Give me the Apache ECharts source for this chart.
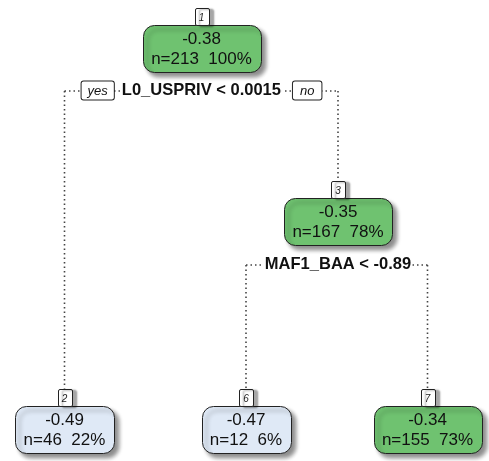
<!DOCTYPE html>
<html>
<head>
<meta charset="utf-8">
<script src="https://cdn.jsdelivr.net/npm/echarts@6/dist/echarts.min.js"></script>
<style>
  html, body { margin: 0; padding: 0; background: #fff; }
  #tree { width: 489px; height: 461px; }
</style>
</head>
<body>
<div id="tree"></div>
<script>
// 节点数据 (rpart 回归树)
const nodeIds = [1, 2, 3, 6, 7];
const nodeValues = [-0.38, -0.49, -0.35, -0.47, -0.34];
const nodeCounts = [213, 46, 167, 12, 155];
const nodePercents = [100, 22, 78, 6, 73];
// 分裂条件
const splitIds = [1, 3];
const splitLabels = ['L0_USPRIV < 0.0015', 'MAF1_BAA < -0.89'];
const leafIds = [2, 6, 7];

// 布局 (像素坐标，grid 铺满画布)
const nodeX = { 1: 201.5, 2: 64.5, 3: 338, 6: 246, 7: 427.5 };
const levelY = [48.5, 221, 429];
const splitY = { 1: 91, 3: 265 };
const boxH = 47;
const numH = 17;

const FONT = '"Liberation Sans", Arial, sans-serif';
const ctx = document.createElement('canvas').getContext('2d');
function textWidth(s, font) {
  ctx.font = font;
  return ctx.measureText(s).width;
}
function nodeY(id) {
  if (leafIds.indexOf(id) >= 0) return levelY[2];
  return levelY[Math.floor(Math.log2(id))];
}
function fillColor(v) {
  return v > -0.4 ? '#6fc270' : '#dfe9f6';
}

let nodeData = nodeIds.map((id, i) => [id, nodeValues[i], nodeCounts[i], nodePercents[i]]);
let splitData = splitIds.map((id, i) => [id, i]);

function renderNode(params, api) {
  let id = api.value(0);
  let val = api.value(1);
  let line1 = val.toFixed(2);
  let line2 = 'n=' + api.value(2) + '  ' + api.value(3) + '%';
  let p = api.coord([nodeX[id], nodeY(id)]);
  let w = Math.round(textWidth(line2, '17px ' + FONT) + 17);
  let x0 = Math.round(p[0] - w / 2) + 0.5;
  let y0 = Math.round(p[1] - boxH / 2) + 0.5;
  let numW = Math.round(textWidth(String(id), 'italic 10px ' + FONT) + 8);
  return {
    type: 'group',
    children: [
      {
        type: 'rect',
        shape: { x: x0, y: y0, width: w, height: boxH, r: 11 },
        style: {
          fill: fillColor(val), stroke: '#222', lineWidth: 1,
          shadowColor: 'rgba(0,0,0,0.45)', shadowBlur: 4, shadowOffsetX: 4, shadowOffsetY: 4
        }
      },
      {
        type: 'text',
        style: {
          text: line1, x: p[0], y: p[1] - 9, align: 'center', verticalAlign: 'middle',
          font: '17px ' + FONT, fill: '#111'
        }
      },
      {
        type: 'text',
        style: {
          text: line2, x: p[0], y: p[1] + 11, align: 'center', verticalAlign: 'middle',
          font: '17px ' + FONT, fill: '#111'
        }
      },
      {
        type: 'rect',
        shape: { x: Math.round(p[0] - numW / 2) + 0.5, y: y0 - numH, width: numW, height: numH, r: 1.5 },
        style: {
          fill: '#fff', stroke: '#222', lineWidth: 1,
          shadowColor: 'rgba(0,0,0,0.35)', shadowBlur: 2, shadowOffsetX: 4, shadowOffsetY: 1
        }
      },
      {
        type: 'text',
        style: {
          text: String(id), x: p[0], y: y0 - numH / 2 + 1, align: 'center', verticalAlign: 'middle',
          font: 'italic 10px ' + FONT, fill: '#222'
        }
      }
    ]
  };
}

function renderSplit(params, api) {
  let id = api.value(0);
  let idx = api.value(1);
  let left = id * 2, right = id * 2 + 1;
  let sy = splitY[id];
  let pl = api.coord([nodeX[left], sy]);
  let pr = api.coord([nodeX[right], sy]);
  let pc = api.coord([nodeX[id], sy]);
  let lineStyle = { stroke: '#444', lineWidth: 1.6, lineDash: [1.5, 3], fill: null };
  let children = [
    {
      type: 'line',
      shape: { x1: pl[0], y1: pl[1], x2: pr[0], y2: pr[1] },
      style: lineStyle
    }
  ];
  [left, right].forEach(c => {
    let bottom = api.coord([nodeX[c], nodeY(c) - boxH / 2 - numH]);
    children.push({
      type: 'line',
      shape: { x1: bottom[0], y1: sy, x2: bottom[0], y2: bottom[1] },
      style: lineStyle
    });
  });
  let text, rich;
  if (id === 1) {
    text = '{yes|yes}{gap| }{lab|' + splitLabels[idx] + '}{gap2| }{no|no}';
  } else {
    text = '{lab|' + splitLabels[idx] + '}';
  }
  rich = {
    lab: { font: 'bold 16.5px ' + FONT, fill: '#111', backgroundColor: '#fff', padding: [1, 1] },
    gap: { width: 7 },
    gap2: { width: 11 },
    yes: {
      font: 'italic 13px ' + FONT, fill: '#111', backgroundColor: '#fff',
      borderColor: '#222', borderWidth: 1, borderRadius: 2, padding: [3, 6, 2, 6]
    },
    no: {
      font: 'italic 13px ' + FONT, fill: '#111', backgroundColor: '#fff',
      borderColor: '#222', borderWidth: 1, borderRadius: 2, padding: [3, 7, 2, 7]
    }
  };
  children.push({
    type: 'text',
    style: {
      text: text, rich: rich, x: pc[0], y: pc[1] - 0.5, align: 'center', verticalAlign: 'middle'
    }
  });
  return { type: 'group', children: children };
}

let myChart = echarts.init(document.getElementById('tree'));
let option = {
  animation: false,
  grid: { left: 0, right: 0, top: 0, bottom: 0 },
  xAxis: { type: 'value', min: 0, max: 489, show: false },
  yAxis: { type: 'value', min: 0, max: 461, inverse: true, show: false },
  series: [
    {
      type: 'custom',
      renderItem: renderSplit,
      data: splitData,
      z: 1
    },
    {
      type: 'custom',
      renderItem: renderNode,
      data: nodeData,
      z: 2
    }
  ]
};
myChart.setOption(option);
</script>
</body>
</html>
